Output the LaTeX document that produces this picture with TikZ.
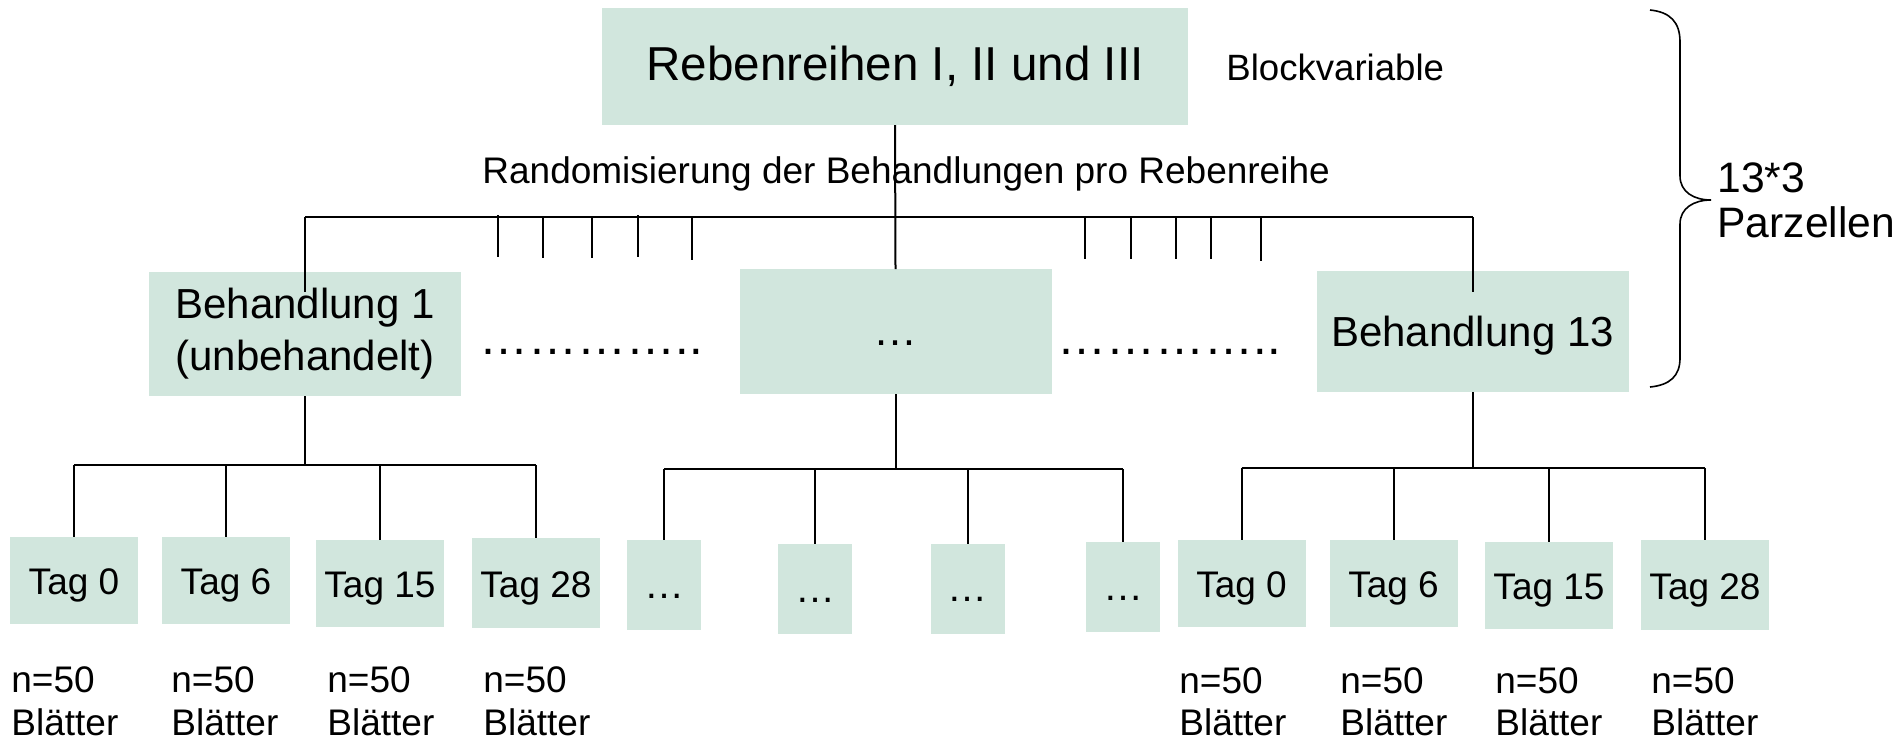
\documentclass[tikz,border=0pt]{standalone}
\usepackage{fontspec}
\setmainfont{Liberation Sans}
\usetikzlibrary{calc}
\definecolor{boxc}{RGB}{209,230,221}
\begin{document}
\begin{tikzpicture}[x=0.5pt,y=-0.5pt,
  box/.style={fill=boxc, inner sep=0pt, outer sep=0pt, align=center},
  bigbox/.style={box, minimum width=156pt, minimum height=62pt, font=\fontsize{21}{26}\selectfont},
  tagbox/.style={box, minimum width=64pt, minimum height=43.5pt, text height=14pt, text depth=0pt, font=\fontsize{18.5}{22}\selectfont},
  dotbox/.style={box, minimum width=37pt, minimum height=45pt, text height=13pt, text depth=0pt, font=\fontsize{20}{24}\selectfont},
  conn/.style={line width=1pt, black},
  lbl/.style={inner sep=0pt, anchor=base west, font=\fontsize{18.5}{22}\selectfont},
  biglbl/.style={inner sep=0pt, anchor=base west, font=\fontsize{21.3}{25}\selectfont}]
\useasboundingbox (0,0) rectangle (1899,741);

% boxes
\node[box, minimum width=293pt, minimum height=58.5pt, font=\fontsize{23.8}{28}\selectfont] (top) at (895,66.5) {Rebenreihen I, II und III};
\node[bigbox] (B1) at (305,334) {Behandlung 1\\(unbehandelt)};
\node[bigbox, minimum height=62.5pt, text height=13.5pt, text depth=0pt, font=\fontsize{22}{26}\selectfont] (mid) at (895.5,331.5) {…};
\node[bigbox, minimum height=60.5pt, text depth=0pt] (B13) at (1472.5,331.5) {Behandlung 13};

\node[tagbox] (t1) at (74,580) {Tag 0};
\node[tagbox] (t2) at (226,580) {Tag 6};
\node[tagbox] (t3) at (380,583) {Tag 15};
\node[tagbox, minimum height=45pt] (t4) at (536,583) {Tag 28};

\node[dotbox] (m1) at (664,585) {…};
\node[dotbox] (m2) at (815,589) {…};
\node[dotbox] (m3) at (967.5,588.5) {…};
\node[dotbox] (m4) at (1123,587) {…};

\node[tagbox] (r1) at (1241.5,583) {Tag 0};
\node[tagbox] (r2) at (1393.5,583) {Tag 6};
\node[tagbox] (r3) at (1549,585.5) {Tag 15};
\node[tagbox, minimum height=45pt] (r4) at (1705,585) {Tag 28};

% labels
\node[lbl, font=\fontsize{18.3}{22}\selectfont] (bv) at (1226,80) {Blockvariable};
\node[lbl] (rand) at (482,183) {Randomisierung der Behandlungen pro Rebenreihe};
\node[biglbl] (p1) at (1717,192) {13*3};
\node[biglbl] (p2) at (1717,237) {Parzellen};

\node[inner sep=0pt, anchor=base, font=\fontsize{24.5}{28}\selectfont] (dl) at (591,354) {…………..};
\node[inner sep=0pt, anchor=base, font=\fontsize{24.5}{28}\selectfont] (dr) at (1169,354) {…………..};

\foreach \x [count=\i] in {11,171,327,483} {
  \node[lbl] (nl\i) at (\x,692) {n=50};
  \node[lbl] (bl\i) at (\x,735) {Blätter};
}
\foreach \x [count=\i] in {1179,1340,1495,1651} {
  \node[lbl] (nr\i) at (\x,693) {n=50};
  \node[lbl] (br\i) at (\x,735) {Blätter};
}

% upper connectors
\draw[conn] (top.south) -- (mid.north);
\coordinate (hl) at (305,217);
\coordinate (hr) at (1472.5,217);
\draw[conn] (hl) -- (hr);
\draw[conn] (hl) -- ($(B1.north)+(0,20)$);
\draw[conn] (hr) -- ($(B13.north)+(0,21)$);
\foreach \x/\a/\b in {498/215/257, 543/216/258, 591.5/216/258, 638/215/257, 692/217/260,
                      1084.5/217/259, 1130.5/217/259, 1176/217/259, 1211/217/259, 1261/217/261}
  \draw[conn] (\x,\a) -- (\x,\b);

% lower connectors
\coordinate (j1) at (305,465);
\draw[conn] (B1.south) -- (j1);
\draw[conn] (t1.north |- j1) -- (t4.north |- j1);
\foreach \n in {t1,t2,t3,t4} \draw[conn] (\n.north |- j1) -- (\n.north);

\coordinate (j2) at (895.5,469);
\draw[conn] (mid.south) -- (j2);
\draw[conn] (m1.north |- j2) -- (m4.north |- j2);
\foreach \n in {m1,m2,m3,m4} \draw[conn] (\n.north |- j2) -- (\n.north);

\coordinate (j3) at (1472.5,468);
\draw[conn] (B13.south) -- (j3);
\draw[conn] (r1.north |- j3) -- (r4.north |- j3);
\foreach \n in {r1,r2,r3,r4} \draw[conn] (\n.north |- j3) -- (\n.north);

% brace
\draw[line width=0.8pt] (1650,10) .. controls (1670,12) and (1680,22) .. (1680,42)
  -- (1680,176) .. controls (1680,192) and (1694,200) .. (1711,200)
  .. controls (1694,200) and (1680,208) .. (1680,224)
  -- (1680,358) .. controls (1680,376) and (1670,385) .. (1650,387);
\end{tikzpicture}
\end{document}
